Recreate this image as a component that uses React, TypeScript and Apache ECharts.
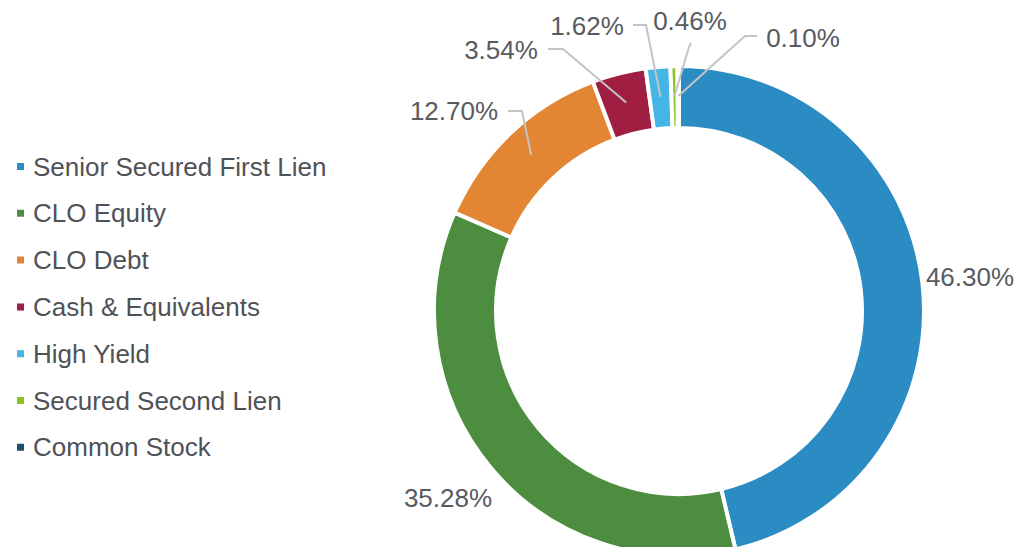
import React, { useEffect, useRef } from "react";
import * as echarts from "echarts";

const categories = [
  "Senior Secured First Lien",
  "CLO Equity",
  "CLO Debt",
  "Cash & Equivalents",
  "High Yield",
  "Secured Second Lien",
  "Common Stock",
];
const values = [46.3, 35.28, 12.7, 3.54, 1.62, 0.46, 0.1];
const colors = ["#2A8CC2", "#4C8D3F", "#E38634", "#A11E43", "#45B5E6", "#8DC21F", "#1D4E6E"];

// layout (not data): center, radii, label anchors and leader elbows
const CX = 679;
const CY = 311;
const LINE_R = 215;
const labelPos: [number, number][] = [
  [970, 277],
  [448, 498],
  [454, 111],
  [501, 50],
  [587, 26],
  [690, 21],
  [803, 38],
];
const lineAnchors: ([number, number][] | null)[] = [
  null,
  null,
  [[522, 111], [508, 111]],
  [[563, 49], [548, 49]],
  [[646, 25], [633, 25]],
  [[689, 47], [691, 43]],
  [[745, 36], [757, 36]],
];

export default function App() {
  const ref = useRef<HTMLDivElement>(null);
  useEffect(() => {
    if (!ref.current) return;
    const chart = echarts.init(ref.current, undefined, { renderer: "svg" });
    const total = values.reduce((a, b) => a + b, 0);
    const mids: number[] = [];
    let acc = 0;
    values.forEach((v) => {
      mids.push(((acc + v / 2) / total) * 2 * Math.PI);
      acc += v;
    });
    const font = "'Liberation Sans', Arial, sans-serif";
    chart.setOption({
      animation: false,
      legend: {
        orient: "vertical",
        left: 15,
        top: 153.5,
        padding: 0,
        icon: "rect",
        itemWidth: 9,
        itemHeight: 9,
        itemGap: 20.8,
        selectedMode: false,
        textStyle: {
          fontFamily: font,
          fontSize: 26,
          lineHeight: 26,
          color: "#4F5257",
          padding: [0, 0, 0, 3],
        },
        data: categories,
      },
      series: [
        {
          type: "pie",
          z: 2,
          center: [CX, CY],
          radius: [183, 245],
          startAngle: 90,
          clockwise: true,
          itemStyle: { borderColor: "#ffffff", borderWidth: 4 },
          label: { show: false },
          labelLine: { show: false },
          data: categories.map((name, i) => ({
            name,
            value: values[i],
            itemStyle: { color: colors[i] },
          })),
        },
        {
          type: "pie",
          z: 5,
          silent: true,
          center: [CX, CY],
          radius: [183, 245],
          startAngle: 90,
          clockwise: true,
          avoidLabelOverlap: false,
          itemStyle: { color: "rgba(0,0,0,0)", borderWidth: 0 },
          label: {
            show: true,
            position: "outside",
            formatter: (p: any) => p.value.toFixed(2) + "%",
            fontFamily: font,
            fontSize: 26,
            color: "#585B5F",
          },
          labelLine: {
            show: true,
            showAbove: true,
            lineStyle: { color: "#C4C4C4", width: 2 },
          },
          labelLayout: (params: any) => {
            const i = params.dataIndex;
            const [x, y] = labelPos[i];
            const res: any = { x, y, align: "center", verticalAlign: "middle" };
            const anchors = lineAnchors[i];
            if (anchors) {
              const a = mids[i];
              const inner: [number, number] = [CX + LINE_R * Math.sin(a), CY - LINE_R * Math.cos(a)];
              res.labelLinePoints = [inner, anchors[0], anchors[1]];
            }
            return res;
          },
          data: categories.map((name, i) => ({
            name,
            value: values[i],
            labelLine: { show: lineAnchors[i] !== null },
          })),
        },
      ],
    });
    return () => chart.dispose();
  }, []);
  return (
    <div
      ref={ref}
      style={{ position: "fixed", left: 0, top: 0, width: 1016, height: 547, background: "#fff" }}
    />
  );
}
